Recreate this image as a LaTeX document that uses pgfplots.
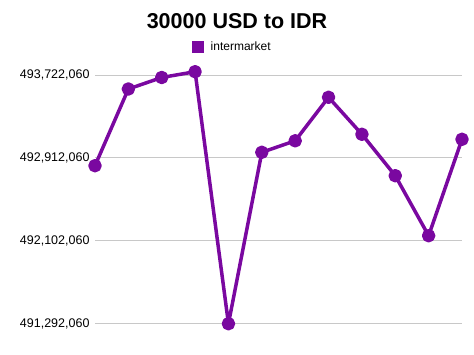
\documentclass[border=0pt]{standalone}
\usepackage{pgfplots}
\pgfplotsset{compat=1.18}
\usepackage{fontspec}
\setmainfont{Liberation Sans}
\definecolor{ser}{RGB}{122,8,160}
\definecolor{grd}{RGB}{200,200,200}
\begin{document}
\begin{tikzpicture}
\path[use as bounding box] (0,0) rectangle (474bp,355bp);
\node[font=\fontsize{21.5bp}{24bp}\selectfont\bfseries] at (237bp,333.5bp) {30000 USD to IDR};
\fill[ser] (192bp,302bp) rectangle (204bp,314bp);
\node[anchor=west,inner sep=0pt,font=\fontsize{12bp}{14bp}\selectfont] at (210.5bp,309bp) {intermarket};
\begin{axis}[
  at={(95bp,15bp)}, anchor=south west,
  scale only axis, width=367bp, height=280bp,
  xmin=0, xmax=11,
  ymin=491132760, ymax=493868660,
  axis line style={draw=none},
  xtick=\empty,
  scaled y ticks=false,
  ytick={491292060,492102060,492912060,493722060},
  yticklabels={{491,292,060},{492,102,060},{492,912,060},{493,722,060}},
  ymajorgrids, major grid style={grd, line width=0.8bp},
  major tick length=0pt,
  yticklabel style={font=\fontsize{12.5bp}{14bp}\selectfont, xshift=-2bp},
  clip=false,
]
\addplot[ser, line width=3.5bp, line join=round, mark=*, mark size=5bp, mark options={fill=ser, draw=none, solid}] coordinates {
(0,492835860)
(1,493585260)
(2,493697660)
(3,493754260)
(4,491292060)
(5,492966760)
(6,493079160)
(7,493504160)
(8,493142660)
(9,492738160)
(10,492151860)
(11,493093760)
};
\end{axis}
\end{tikzpicture}
\end{document}
